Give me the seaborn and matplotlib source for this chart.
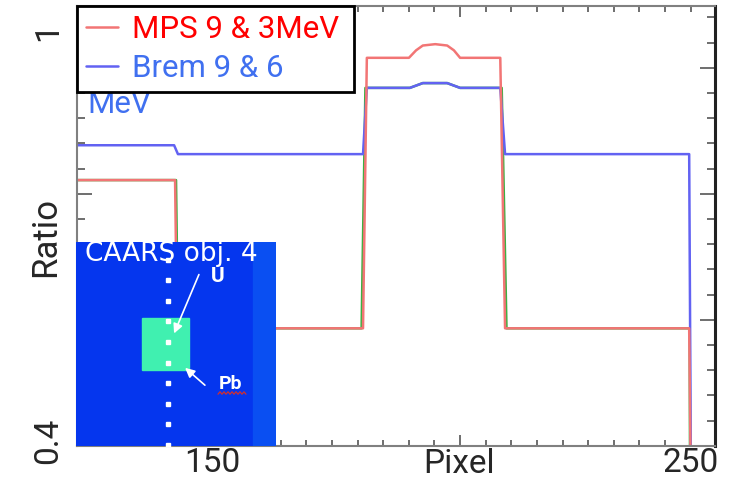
import matplotlib
matplotlib.use("Agg")
import matplotlib.pyplot as plt
import seaborn as sns
import pandas as pd
import numpy as np
from matplotlib.ticker import FixedLocator
from matplotlib.patches import Rectangle

# step corners (detector pixel, ratio)
mps_pixel = [121.8, 142.3, 142.7, 181.6, 182.4, 191.2, 192.7, 194.1, 196.7, 199.2, 200.6, 201.9, 210.3, 211.3, 249.8, 250.2]
mps_ratio = [0.782, 0.782, 0.565, 0.565, 0.961, 0.961, 0.972, 0.979, 0.981, 0.979, 0.972, 0.961, 0.961, 0.565, 0.565, 0.30]

brem_pixel = [121.8, 142.1, 142.9, 181.6, 182.4, 191.4, 194.1, 199.2, 201.9, 210.3, 211.3, 249.8, 250.2]
brem_ratio = [0.833, 0.833, 0.820, 0.820, 0.917, 0.917, 0.924, 0.924, 0.917, 0.917, 0.820, 0.820, 0.30]

# third (unlabelled) trace, mostly hidden under the other two
other_pixel = [121.8, 142.5, 142.9, 181.3, 182.1, 191.4, 194.1, 199.2, 201.9, 210.6, 211.6, 249.9, 250.0]
other_ratio = [0.782, 0.782, 0.565, 0.565, 0.917, 0.917, 0.924, 0.924, 0.917, 0.917, 0.565, 0.565, 0.30]

series_labels = ["MPS 9 & 3MeV", "Brem 9 & 6"]
x_tick_values = [150, 250]
y_tick_values = [0.4, 1.0]
y_tick_labels = ["0.4", "1"]

sns.set_style("ticks")
plt.rcParams["font.family"] = ["Roboto", "DejaVu Sans"]

fig = plt.figure(figsize=(7.35, 4.82), dpi=100)
ax = fig.add_axes([0.1048, 0.0747, 0.868, 0.9129])

sns.lineplot(x=other_pixel, y=other_ratio, sort=False, estimator=None, color="#3cb043", lw=1.8, ax=ax)
sns.lineplot(x=brem_pixel, y=brem_ratio, sort=False, estimator=None, color="#6262f2", lw=1.8, ax=ax)
sns.lineplot(x=mps_pixel, y=mps_ratio, sort=False, estimator=None, color="#f27575", lw=1.8, ax=ax)
lines = ax.get_lines()

ax.set_xlim(121.8, 255.2)
ax.set_ylim(0.3927, 1.0369)

# ticks: minor marks every ~5.36 px-units / 0.0369 ratio, every 5th one long
x_step, x_base = 5.356, 201.9
x_long = [x_base]
x_minor = [x_base + x_step * k for k in range(-15, 10) if k != 0]
ax.xaxis.set_major_locator(FixedLocator(x_tick_values[:1] + x_long + x_tick_values[1:]))
ax.set_xticklabels([str(x_tick_values[0]), "", str(x_tick_values[1])])
ax.xaxis.set_minor_locator(FixedLocator(x_minor))

y_step, y_base = 0.0369, 0.393
y_long = [y_base + y_step * k for k in (5, 10, 15)]
y_minor = [y_base + y_step * k for k in range(0, 18) if k % 5]
ax.yaxis.set_major_locator(FixedLocator(y_tick_values[:1] + y_long + y_tick_values[1:]))
ax.set_yticklabels([y_tick_labels[0], "", "", "", y_tick_labels[1]], rotation=90, va="center")
ax.yaxis.set_minor_locator(FixedLocator(y_minor))

ax.tick_params(which="both", direction="in", top=True, right=True, color="#555555", width=1.2)
ax.tick_params(axis="x", which="major", length=8, labelsize=24, pad=1)
ax.tick_params(axis="x", which="minor", length=4.3)
ax.tick_params(axis="y", which="major", length=10.5, labelsize=24, pad=9.5)
ax.tick_params(axis="y", which="minor", length=5.5)
for t in ax.xaxis.get_major_ticks():
    if t.get_loc() in x_tick_values:
        t.tick1line.set_visible(False)
        t.tick2line.set_visible(False)
for t in ax.yaxis.get_major_ticks():
    if t.get_loc() in y_tick_values:
        t.tick1line.set_visible(False)
        t.tick2line.set_visible(False)

ax.set_xlabel("Pixel", fontsize=24)
ax.xaxis.set_label_coords(0.599, -0.004)
ax.set_ylabel("Ratio", fontsize=25)
ax.yaxis.set_label_coords(-0.0235, 0.476)

for side in ["top", "left", "bottom"]:
    ax.spines[side].set_color("#808080")
    ax.spines[side].set_linewidth(1.5)
ax.spines["right"].set_color("#222222")
ax.spines["right"].set_linewidth(2.2)

leg = ax.legend([lines[2], lines[1]], series_labels, loc="upper left",
                bbox_to_anchor=(0, 0, 0.434, 1), mode="expand",
                borderaxespad=0, fontsize=22.5, frameon=True, fancybox=False, framealpha=1,
                edgecolor="black", handlelength=1.0, handletextpad=0.45, borderpad=0.3,
                labelspacing=0.3)
leg.get_frame().set_linewidth(2)
leg.get_texts()[0].set_color("#ff0000")
leg.get_texts()[1].set_color("#4070f0")
# the second label spills out of the box in the original slide
ax.text(0.0157, 0.777, "MeV", transform=ax.transAxes, fontsize=22.5, color="#4070f0", va="center")

# inset picture of the test object (in its own pixel coordinates)
inset = fig.add_axes([76 / 735, 36 / 482, 200 / 735, 204 / 482], zorder=5)
inset.set_xlim(0, 200)
inset.set_ylim(204, 0)
inset.axis("off")
inset.add_patch(Rectangle((0, 0), 200, 204, color="#0536ee"))
inset.add_patch(Rectangle((177, 0), 23, 204, color="#0a4ff2"))
inset.add_patch(Rectangle((66, 76), 47, 52, color="#40f0b0"))
dot_y = np.arange(17.5, 204, 20.6)
inset.plot(np.full(len(dot_y), 92), dot_y, ls="none", marker="s", ms=3, color="white")
inset.text(9, 12, "CAARS obj. 4", color="white", fontsize=19, va="center", family="DejaVu Sans")
inset.text(142, 35, "U", color="white", fontsize=15, fontweight="bold", ha="center", va="center")
inset.annotate("", xy=(97, 94), xytext=(124, 30),
               arrowprops=dict(arrowstyle="-|>", color="white", lw=1.2, mutation_scale=14))
inset.text(155, 142, "Pb", color="white", fontsize=14, fontweight="bold", ha="center", va="center")
inset.annotate("", xy=(107, 124), xytext=(131, 145),
               arrowprops=dict(arrowstyle="-|>", color="white", lw=1.2, mutation_scale=14))
wave_x = np.linspace(142, 170, 15)
inset.plot(wave_x, 151 + 1.2 * (-1) ** np.arange(15), color="#d03030", lw=0.9)

fig.savefig("out.png", dpi=100)
